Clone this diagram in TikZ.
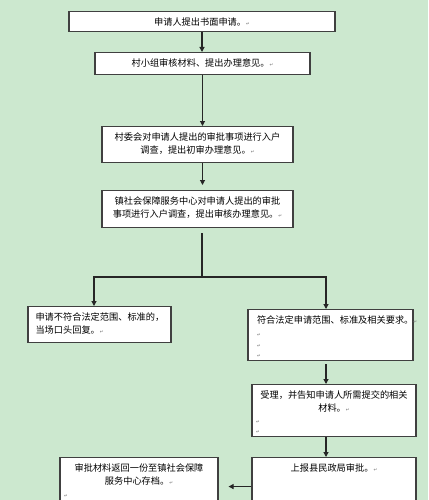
\documentclass[tikz,border=0pt]{standalone}
\usepackage{fontspec}
\usetikzlibrary{arrows.meta}
\newfontfamily\cjkfont{Noto Sans CJK SC}
\newfontfamily\symfont{DejaVu Sans}
\definecolor{pagegreen}{RGB}{204,232,207}
\newcommand\parmark{{\symfont\fontsize{4.5}{4.5}\selectfont\textcolor{black!55}{↵}}}
\newcommand\markline{\makebox[\linewidth][l]{\parmark}}
\begin{document}
\begin{tikzpicture}[x=1pt,y=-1pt]
\tikzset{
  stepbox/.style={draw=black!75,line width=1.1pt,fill=white,anchor=north,
    inner ysep=0pt,inner xsep=4pt,text height=13.5pt,align=center,
    font=\cjkfont\fontsize{9.2}{13.5}\selectfont},
  leftbox/.style={stepbox,align=left,inner xsep=7.5pt},
  flowline/.style={draw=black!85,line width=1.1pt},
  flowarrow/.style={flowline,-{Triangle[length=5pt,width=5pt]}}
}
\useasboundingbox (0,0) rectangle (428,500);
\clip (0,0) rectangle (428,500);
\fill[pagegreen] (0,0) rectangle (428,500);

% main column
\node[stepbox,text width=258pt,text depth=6.5pt] (apply) at (202,11)
  {申请人提出书面申请。\parmark};
\node[stepbox,text width=207pt,text depth=8.5pt] (review) at (202.5,52)
  {村小组审核材料、提出办理意见。\parmark};
\node[stepbox,text width=183pt,text depth=22.5pt] (survey) at (197.5,126)
  {村委会对申请人提出的审批事项进行入户\\调查，提出初审办理意见。\parmark};
\node[stepbox,text width=183pt,text depth=23.5pt] (check) at (197.5,190)
  {镇社会保障服务中心对申请人提出的审批\\事项进行入户调查，提出审核办理意见。\parmark};

% two branches
\node[leftbox,text width=128pt,text depth=22.5pt] (reject) at (99.5,306)
  {申请不符合法定范围、标准的，\\当场口头回复。\parmark};
\node[leftbox,inner xsep=9pt,text width=147pt,text depth=37.5pt] (accept) at (330.5,309)
  {符合法定申请范围、标准及相关要求。\parmark\\\markline\\[-3pt]\markline\\[-3pt]\markline};
\node[stepbox,text width=156pt,text depth=38.5pt] (notify) at (334,384)
  {受理，并告知申请人所需提交的相关\\材料。\parmark\\[-2pt]\markline\\[-3pt]\markline};
\node[stepbox,text width=156pt,text depth=44.5pt] (report) at (334,457)
  {上报县民政局审批。\parmark};
\node[stepbox,text width=150pt,text depth=44.5pt] (archive) at (139,457)
  {审批材料返回一份至镇社会保障\\服务中心存档。\parmark\\[-1pt]\markline};

\coordinate (split) at (202,277);
\coordinate (lturn) at (94,277);
\coordinate (rturn) at (326,277);

\draw[flowarrow] (apply.south) -- (apply.south |- review.north);
\draw[flowarrow] (review.south) -- (review.south |- survey.north);
\draw[flowarrow,shorten >=5pt] (review.south |- survey.south) -- (review.south |- check.north);
\draw[flowline,shorten <=5pt] (split |- check.south) -- (split);
\draw[flowarrow] (split) -- (lturn) -- (lturn |- reject.north);
\draw[flowarrow] (split) -- (rturn) -- (rturn |- accept.north);
\draw[flowarrow,shorten <=3pt] (rturn |- accept.south) -- (rturn |- notify.north);
\draw[flowarrow] (rturn |- notify.south) -- (rturn |- report.north);
\draw[flowarrow,shorten >=10pt] (report.west) -- (archive.east |- report.west);
\end{tikzpicture}
\end{document}
